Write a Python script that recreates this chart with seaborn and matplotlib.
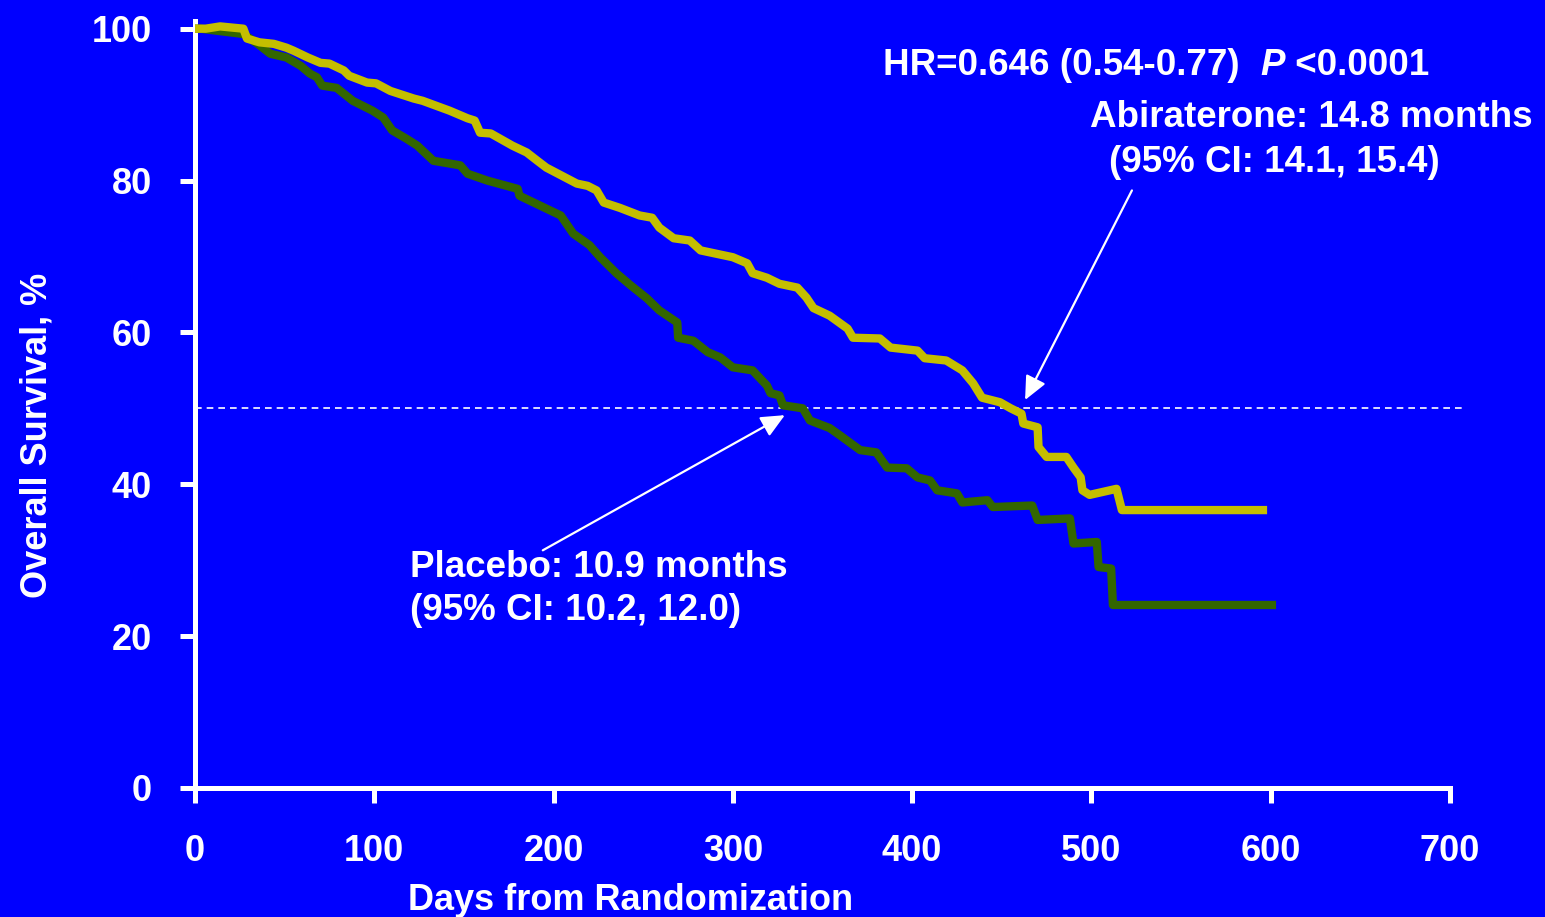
import matplotlib
matplotlib.use("Agg")
import matplotlib.pyplot as plt
import seaborn as sns
import pandas as pd

# Kaplan-Meier overall survival, digitised step outlines (days, % alive)
abi_days = [0, 6, 14, 27, 29, 36, 44, 51, 55, 63, 70, 75, 83, 86, 96, 101, 109,
            122, 127, 142, 152, 156, 159, 165, 177, 185, 191, 196, 213, 219, 224,
            228, 237, 248, 255, 259, 267, 276, 282, 300, 308, 311, 319, 326, 336,
            341, 345, 354, 364, 367, 382, 388, 403, 407, 419, 428, 434, 439, 449,
            455, 461, 462, 470, 470.5, 475, 486, 490, 494, 495, 499, 514, 517, 598]
abi_surv = [100, 100, 100.3, 100, 98.7, 98.2, 98, 97.5, 97.1, 96.2, 95.5, 95.4,
            94.5, 93.8, 92.9, 92.8, 91.8, 90.8, 90.5, 89.2, 88.2, 87.9, 86.3,
            86.2, 84.6, 83.7, 82.6, 81.7, 79.6, 79.3, 78.7, 77.1, 76.4, 75.4,
            75.1, 73.8, 72.4, 72.1, 70.8, 69.9, 69.1, 67.8, 67.2, 66.4, 65.9,
            64.6, 63.2, 62.2, 60.5, 59.3, 59.2, 58.0, 57.6, 56.6, 56.3, 55.0,
            53.3, 51.4, 50.8, 50.0, 49.3, 48.0, 47.5, 44.9, 43.6, 43.6, 42.2,
            40.9, 39.2, 38.6, 39.4, 36.6, 36.6]

pbo_days = [0, 3, 27, 35, 42, 51, 59, 64, 68, 71, 79, 88, 99, 105, 110, 118, 124,
            133, 148, 152, 163, 180, 181, 196, 204, 211, 220, 226, 235, 243, 252,
            259, 269, 269.5, 278, 286, 293, 300, 311, 319, 321, 326, 328, 339,
            343, 354, 360, 371, 380, 386, 397, 403, 410, 414, 425, 428, 442, 445,
            467, 470, 488, 490, 503, 504, 511, 512, 603]
pbo_surv = [100, 100, 99.3, 98.0, 96.7, 96.2, 95.1, 94.1, 93.6, 92.5, 92.2, 90.5,
            89.2, 88.3, 86.6, 85.5, 84.6, 82.6, 82.0, 80.9, 80.0, 78.9, 78.0,
            76.3, 75.4, 73.0, 71.5, 69.9, 67.8, 66.2, 64.5, 62.9, 61.3, 59.3,
            58.9, 57.4, 56.7, 55.4, 55.0, 53.0, 52.0, 51.7, 50.4, 50.0, 48.4,
            47.4, 46.4, 44.5, 44.2, 42.2, 42.1, 40.9, 40.5, 39.2, 38.8, 37.6,
            37.9, 37.0, 37.2, 35.3, 35.5, 32.2, 32.4, 29.1, 28.9, 24.1, 24.1]

x_ticks = [0, 100, 200, 300, 400, 500, 600, 700]
y_ticks = [0, 20, 40, 60, 80, 100]

BG = "#0000FF"
ABI_COLOR = "#C4BE00"
PBO_COLOR = "#336600"
FONT = "Liberation Sans"

sns.set_theme(style="ticks")
plt.rcParams["font.family"] = [FONT, "DejaVu Sans"]
plt.rcParams["font.weight"] = "bold"

fig = plt.figure(figsize=(15.45, 9.17), dpi=100, facecolor=BG)
ax = fig.add_axes([0.1262, 0.1407, 0.8123, 0.8363])
ax.set_facecolor(BG)

abi = pd.DataFrame({"day": abi_days, "surv": abi_surv})
pbo = pd.DataFrame({"day": pbo_days, "surv": pbo_surv})
sns.lineplot(data=pbo, x="day", y="surv", sort=False, estimator=None,
             color=PBO_COLOR, linewidth=6.0, ax=ax, zorder=3,
             solid_joinstyle="round", solid_capstyle="butt")
sns.lineplot(data=abi, x="day", y="surv", sort=False, estimator=None,
             color=ABI_COLOR, linewidth=6.0, ax=ax, zorder=4,
             solid_joinstyle="round", solid_capstyle="butt")

# median reference line
ax.plot([0, 707], [50, 50], color="white", linewidth=1.2,
        linestyle=(0, (4, 3)), clip_on=False, zorder=2)

ax.set_xlim(0, 700)
ax.set_ylim(0, 101)
ax.set_xticks(x_ticks)
ax.set_yticks(y_ticks)
ax.set_xticklabels([str(v) for v in x_ticks])
ax.set_yticklabels([str(v) for v in y_ticks])

for side in ("top", "right"):
    ax.spines[side].set_visible(False)
for side in ("left", "bottom"):
    ax.spines[side].set_color("white")
    ax.spines[side].set_linewidth(3.6)

ax.tick_params(axis="both", colors="white", length=11, width=3.6,
               labelsize=26, direction="out", bottom=True, left=True)
ax.tick_params(axis="y", pad=20)
ax.tick_params(axis="x", pad=22)
for lab in ax.get_xticklabels() + ax.get_yticklabels():
    lab.set_fontweight("bold")
    lab.set_color("white")

ax.set_xlabel("Days from Randomization", fontsize=26, fontweight="bold",
              color="white")
ax.set_ylabel("Overall Survival, %", fontsize=26, fontweight="bold",
              color="white")
ax.xaxis.set_label_coords(0.347, -0.124)
ax.yaxis.set_label_coords(-0.112, 0.46)

txt = dict(fontsize=26.5, fontweight="bold", color="white")

# hazard ratio line, with italic P
hr = ax.text(383.7, 95.1, "HR=0.646 (0.54-0.77)  ", ha="left", va="center", **txt)
p = ax.annotate("P", xy=(1, 0), xycoords=hr, ha="left", va="bottom",
                fontstyle="italic", **txt)
ax.annotate(" <0.0001", xy=(1, 0), xycoords=p, ha="left", va="bottom", **txt)

ax.text(499, 88.3, "Abiraterone: 14.8 months", ha="left", va="center", **txt)
ax.text(510, 82.4, "(95% CI: 14.1, 15.4)", ha="left", va="center", **txt)
ax.text(120, 29.1, "Placebo: 10.9 months", ha="left", va="center", **txt)
ax.text(120, 23.4, "(95% CI: 10.2, 12.0)", ha="left", va="center", **txt)

arrow = dict(arrowstyle="-|>,head_length=1.2,head_width=0.55", color="white",
             linewidth=1.6, shrinkA=0, shrinkB=0)
ax.annotate("", xy=(463, 51.1), xytext=(522.6, 78.7), arrowprops=arrow, zorder=5)
ax.annotate("", xy=(329, 49.1), xytext=(194, 31.3), arrowprops=arrow, zorder=5)

fig.savefig("out.png", dpi=100, facecolor=BG)
